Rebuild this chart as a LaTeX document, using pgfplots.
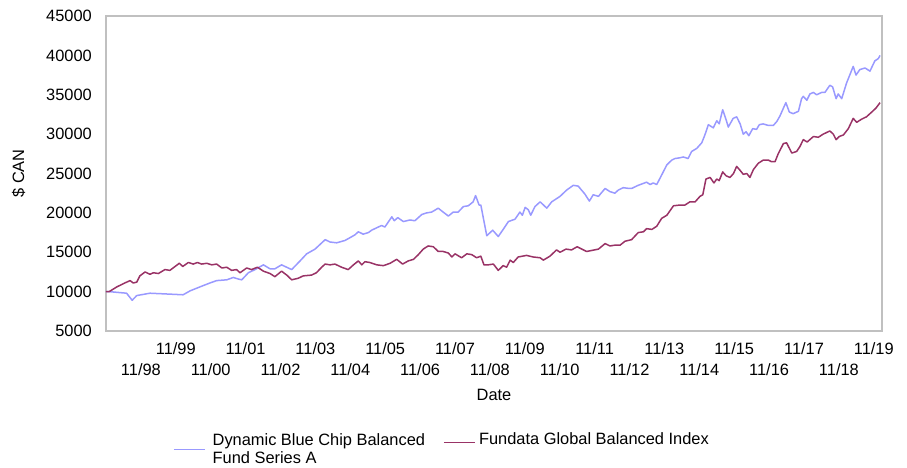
\documentclass[border=0pt]{standalone}
\usepackage{fontspec}
\setmainfont{Liberation Sans}
\usepackage{pgfplots}
\pgfplotsset{compat=1.18}
\definecolor{fundblue}{RGB}{153,153,255}
\definecolor{indexred}{RGB}{153,51,102}
\definecolor{boxgray}{RGB}{192,192,192}
\pgfplotsset{
  legline/.style={legend image code/.code={\draw[##1,yshift=-3pt] (0pt,0pt) -- (31pt,0pt);}},
  leglineshift/.style={legend image code/.code={\draw[##1,yshift=-10pt] (0pt,0pt) -- (31pt,0pt);}},
}

\begin{document}
\begin{tikzpicture}
\path[use as bounding box] (-106pt,-136pt) rectangle (801pt,331pt);
\begin{axis}[
  at={(0pt,0pt)}, anchor=south west,
  scale only axis, width=776pt, height=315pt,
  font=\fontsize{16.4}{18.3}\selectfont,
  scaled y ticks=false,
  /pgf/number format/.cd, 1000 sep={}, assume math mode=true, /pgfplots/.cd,
  yticklabel={\pgfmathprintnumber[fixed,precision=0,1000 sep={}]{\tick}},
  xmin=0, xmax=22.235,
  ymin=5000, ymax=45000,
  ytick={5000,10000,15000,20000,25000,30000,35000,40000,45000},
  xtick={1,2,...,22},
  xticklabels={11/98,\raisebox{21.4pt}{11/99},11/00,\raisebox{21.4pt}{11/01},11/02,\raisebox{21.4pt}{11/03},11/04,\raisebox{21.4pt}{11/05},11/06,\raisebox{21.4pt}{11/07},11/08,\raisebox{21.4pt}{11/09},11/10,\raisebox{21.4pt}{11/11},11/12,\raisebox{21.4pt}{11/13},11/14,\raisebox{21.4pt}{11/15},11/16,\raisebox{21.4pt}{11/17},11/18,\raisebox{21.4pt}{11/19}},
  major tick length=0pt,
  axis line style={boxgray, line width=1.3pt},
  xticklabel style={anchor=base, inner sep=0pt, yshift=-44.7pt},
  yticklabel style={anchor=east, inner sep=0pt, xshift=-14pt},
  xlabel={Date},
  xlabel style={at={(axis description cs:0.5,0)}, anchor=base, yshift=-69.5pt, inner sep=0pt},
  ylabel={\$ CAN},
  ylabel style={at={(axis description cs:-0.10567,0.5)}, anchor=base, inner sep=0pt},
  legend columns=2,
  legend cell align=left,
  legend style={at={(axis description cs:0.0863,-0.3206)}, anchor=north west,
    draw=none, fill=none, inner sep=0pt, column sep=7pt,
    nodes={inner sep=0pt},
    /tikz/every even column/.append style={column sep=18pt},
    /tikz/column 3/.append style={column sep=3.5pt}},
]
\addplot[fundblue, line width=1.5pt, line join=round, leglineshift]
coordinates {
(0.00,10000) (0.09,10000) (0.59,9800) (0.75,8900) (0.88,9500) (1.26,9800)
(1.74,9700) (2.21,9600) (2.41,10100) (2.69,10600) (2.98,11100) (3.17,11400)
(3.46,11500) (3.65,11800) (3.79,11600) (3.89,11500) (4.08,12400) (4.27,12800)
(4.51,13400) (4.70,12900) (4.84,12900) (5.03,13400) (5.32,12800) (5.56,13900)
(5.75,14800) (5.99,15400) (6.28,16600) (6.42,16300) (6.61,16200) (6.85,16500)
(7.13,17200) (7.23,17600) (7.37,17300) (7.52,17500) (7.61,17800) (7.80,18200)
(7.90,18400) (7.99,18200) (8.19,19500) (8.26,19000) (8.36,19400) (8.52,18900)
(8.71,19100) (8.85,19000) (9.05,19800) (9.19,20000) (9.33,20100) (9.52,20600)
(9.66,20100) (9.81,19600) (9.95,20100) (10.09,20100) (10.24,20800) (10.38,20900)
(10.52,21400) (10.59,22200) (10.69,21000) (10.74,21000) (10.91,17100) (11.08,17800)
(11.24,17000) (11.38,17900) (11.53,18900) (11.72,19200) (11.86,20100) (11.93,19700)
(12.01,20700) (12.10,20400) (12.17,19700) (12.29,20800) (12.44,21400) (12.63,20600)
(12.77,21400) (13.01,22100) (13.20,22900) (13.39,23500) (13.53,23400) (13.72,22400)
(13.85,21500) (13.96,22300) (14.11,22100) (14.30,23100) (14.44,22700) (14.58,22500)
(14.68,22900) (14.82,23200) (14.99,23100) (15.06,23100) (15.25,23500) (15.49,23900)
(15.59,23600) (15.68,23800) (15.78,23600) (15.92,24800) (16.07,26100) (16.21,26700)
(16.30,26900) (16.45,27000) (16.54,27100) (16.68,26900) (16.78,27800) (16.93,28200)
(17.07,28900) (17.16,29900) (17.26,31200) (17.40,30800) (17.50,31700) (17.57,31300)
(17.67,33100) (17.77,31800) (17.83,30900) (17.97,32000) (18.07,32200) (18.17,31300)
(18.26,30000) (18.34,30300) (18.42,29800) (18.53,30700) (18.64,30600) (18.72,31200)
(18.83,31300) (18.98,31100) (19.12,31100) (19.22,31600) (19.31,32300) (19.41,33300)
(19.48,34000) (19.58,32800) (19.69,32600) (19.84,32900) (19.93,34500) (19.98,34800)
(20.08,34300) (20.17,35100) (20.27,35300) (20.36,35000) (20.51,35300) (20.60,35300)
(20.74,36200) (20.82,36000) (20.92,34500) (20.98,35100) (21.08,34500) (21.22,36500)
(21.41,38600) (21.49,37500) (21.60,38200) (21.75,38400) (21.89,38000) (22.03,39300)
(22.13,39600) (22.18,40000)
};
\addlegendentry{\begin{tabular}[t]{@{}l@{}}Dynamic Blue Chip Balanced\\Fund Series A\end{tabular}}
\addplot[indexred, line width=1.5pt, line join=round, legline]
coordinates {
(0.00,10000) (0.09,10000) (0.31,10600) (0.54,11100) (0.69,11400) (0.78,11100)
(0.88,11200) (0.97,12000) (1.12,12500) (1.26,12200) (1.36,12400) (1.50,12300)
(1.69,12800) (1.83,12700) (1.98,13200) (2.10,13600) (2.20,13200) (2.36,13700)
(2.50,13500) (2.62,13700) (2.74,13500) (2.89,13600) (3.03,13400) (3.17,13500)
(3.32,13000) (3.46,13100) (3.60,12700) (3.74,12800) (3.84,12400) (4.03,13000)
(4.17,12800) (4.34,13100) (4.51,12600) (4.70,12300) (4.84,11900) (5.03,12600)
(5.18,12100) (5.32,11500) (5.51,11700) (5.65,12000) (5.89,12100) (6.03,12400)
(6.18,13100) (6.28,13500) (6.42,13400) (6.56,13500) (6.75,13100) (6.94,12800)
(7.09,13400) (7.23,13900) (7.33,13400) (7.42,13800) (7.56,13700) (7.76,13400)
(7.95,13300) (8.14,13600) (8.33,14100) (8.50,13500) (8.66,13900) (8.81,14100)
(8.95,14700) (9.09,15400) (9.23,15800) (9.38,15700) (9.52,15100) (9.66,15100)
(9.81,14900) (9.91,14400) (10.00,14800) (10.19,14300) (10.34,14800) (10.48,14700)
(10.62,14300) (10.74,14500) (10.83,13400) (10.95,13400) (11.10,13500) (11.24,12700)
(11.38,13300) (11.48,13100) (11.58,14000) (11.67,13700) (11.81,14400) (12.05,14600)
(12.24,14400) (12.44,14300) (12.53,14000) (12.72,14500) (12.91,15300) (13.01,15000)
(13.18,15400) (13.34,15300) (13.50,15700) (13.77,15100) (14.11,15400) (14.30,16100)
(14.44,15800) (14.58,15900) (14.73,15900) (14.87,16400) (15.06,16600) (15.25,17500)
(15.40,17600) (15.49,18000) (15.64,17900) (15.78,18300) (15.92,19300) (16.07,19700)
(16.26,20900) (16.45,21000) (16.59,21000) (16.73,21400) (16.88,21400) (17.02,22100)
(17.10,22300) (17.19,24300) (17.31,24500) (17.42,23800) (17.50,24300) (17.57,24100)
(17.67,25200) (17.77,24700) (17.88,24500) (17.98,25000) (18.07,25900) (18.15,25500)
(18.26,24900) (18.36,25000) (18.45,24500) (18.55,25500) (18.69,26300) (18.83,26700)
(18.98,26700) (19.07,26500) (19.17,26500) (19.26,27500) (19.41,28800) (19.50,28900)
(19.65,27600) (19.79,27800) (19.88,28400) (19.98,29300) (20.09,29000) (20.27,29700)
(20.41,29600) (20.55,30000) (20.74,30400) (20.84,30000) (20.92,29300) (21.01,29700)
(21.13,29900) (21.27,30700) (21.41,32000) (21.51,31500) (21.65,31900) (21.79,32200)
(21.94,32800) (22.06,33300) (22.18,34000)
};
\addlegendentry{Fundata Global Balanced Index}
\end{axis}
\end{tikzpicture}
\end{document}
